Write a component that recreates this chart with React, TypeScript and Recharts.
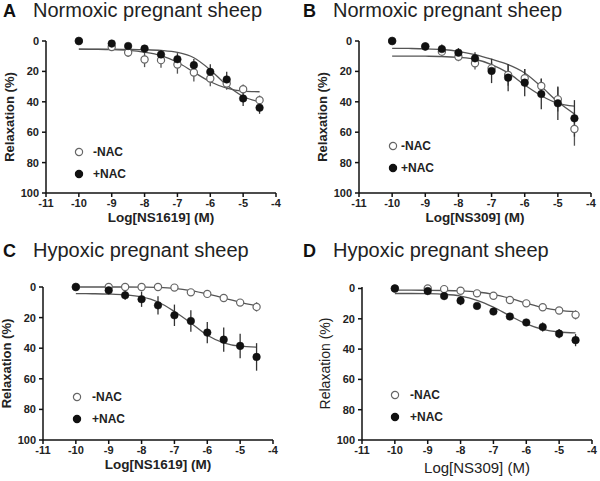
import React from "react";
import {
  ComposedChart,
  Scatter,
  Line,
  XAxis,
  YAxis,
  ErrorBar,
  Legend,
} from "recharts";

// log concentrations (M) of the data points and of the read-off fit curves
const doses = [-10, -9, -8.5, -8, -7.5, -7, -6.5, -6, -5.5, -5, -4.5];
const fitX = [-10, -9.5, -9, -8.5, -8, -7.5, -7, -6.5, -6, -5.5, -5, -4.5];
const xTicks = [-11, -10, -9, -8, -7, -6, -5, -4];
const yTicks = [0, 20, 40, 60, 80, 100];

// A: Normoxic, NS1619
const aMinus = [0, 3.9, 7.6, 12.2, 12.6, 15.5, 20.7, 24.7, 28, 31.7, 38.9];
const aMinusErr = [0, 1, 3, 5, 5, 6, 6, 5, 4, 3, 3];
const aPlus = [0, 1.7, 3.3, 5, 8.9, 12, 15.9, 20.3, 25.3, 37.8, 43.9];
const aPlusErr = [0, 1, 2, 2, 3, 4, 4, 5, 5, 5, 4];
const aMinusFit = [5.4, 5.5, 5.7, 6.2, 7.4, 9.6, 14, 20.5, 26.8, 31, 33, 33.4];
const aPlusFit = [5.4, 5.4, 5.4, 5.5, 5.7, 6.2, 7.5, 11, 19, 29, 36.5, 40];

// B: Normoxic, NS309
const bMinus = [0, 3.5, 7, 10.3, 14.7, 18, 22.4, 24.5, 29.6, 38.4, 57.9];
const bMinusErr = [0, 1, 3, 3, 4, 4, 7, 6, 5, 8, 11];
const bPlus = [0, 3.7, 5.3, 7.7, 11.4, 19.7, 24.1, 27.4, 34.9, 41, 50.9];
const bPlusErr = [0, 1, 3, 3, 4, 8, 9, 9, 10, 11, 12];
const bMinusFit = [4.8, 4.9, 5.1, 5.6, 6.8, 9, 12, 15.5, 21, 30, 40, 48];
const bPlusFit = [9.9, 9.9, 10, 10.2, 10.8, 12, 15.5, 21, 29, 36, 41, 42.8];

// C: Hypoxic, NS1619
const cMinus = [0, 0, 0, 0, 0, 0.4, 3.5, 4.5, 7.2, 10.2, 13];
const cMinusErr = [0, 0, 0, 0, 0, 0, 1, 1, 2, 2, 3];
const cPlus = [0, 2.2, 5.4, 8, 12, 18.5, 22.2, 29.8, 34.4, 38.5, 45.7];
const cPlusErr = [0, 2, 3, 5, 6, 7, 7, 7, 8, 8, 9];
const cMinusFit = [0, 0, 0, 0, 0.1, 0.3, 0.9, 2.3, 4.5, 7.2, 10, 12.2];
const cPlusFit = [4.3, 4.4, 4.6, 5.1, 6.5, 9.8, 16, 23.5, 31.5, 36.5, 38.7, 39.3];

// D: Hypoxic, NS309
const dMinus = [0, 0, 0.4, 1.5, 3.2, 4.8, 7.6, 9.8, 12.4, 14.5, 17.4];
const dMinusErr = [0, 1, 1, 1, 1, 1, 1, 1, 1, 1, 3];
const dPlus = [0, 1.7, 5, 8, 11.5, 15.2, 18.5, 22.4, 25.4, 29.8, 34.1];
const dPlusErr = [0, 2, 1, 3, 2, 2, 2, 2, 3, 3, 4];
const dMinusFit = [1.1, 1.1, 1.2, 1.3, 1.6, 2.3, 3.8, 6.4, 9.6, 12.6, 14.4, 15.2];
const dPlusFit = [3.3, 3.3, 3.4, 3.8, 5, 7.8, 12.3, 18, 23.3, 26.9, 28.7, 29.3];

const FONT = '"Liberation Sans", Arial, sans-serif';

const pts = (ys: number[], errs: number[]) =>
  doses.map((x, i) => ({ x, y: ys[i], err: errs[i] }));
const fit = (ys: number[]) => fitX.map((x, i) => ({ x, y: ys[i] }));

const OpenDot = (p: any) => (
  <circle cx={p.cx} cy={p.cy} r={3.6} fill="#fff" stroke="#666" strokeWidth={1.2} />
);
const FilledDot = (p: any) => (
  <circle cx={p.cx} cy={p.cy} r={3.8} fill="#111" stroke="#111" strokeWidth={0.5} />
);

function LegendBox({ gap }: { gap: number }) {
  const row = (filled: boolean, label: string) => (
    <div style={{ display: "flex", alignItems: "center", height: 22 }}>
      <svg width={10} height={10}>
        <circle
          cx={5}
          cy={5}
          r={3.6}
          fill={filled ? "#111" : "#fff"}
          stroke={filled ? "#111" : "#666"}
          strokeWidth={1.2}
        />
      </svg>
      <span
        style={{
          marginLeft: gap,
          fontFamily: FONT,
          fontWeight: "bold",
          fontSize: 12,
          color: "#222",
        }}
      >
        {label}
      </span>
    </div>
  );
  return (
    <div>
      {row(false, "-NAC")}
      {row(true, "+NAC")}
    </div>
  );
}

type PanelProps = {
  left: number;
  top: number;
  height: number;
  letter: string;
  title: string;
  drug: string;
  plotLeft: number;
  plotRight: number;
  plotTop: number;
  plotBottom: number;
  minus: number[];
  minusErr: number[];
  plus: number[];
  plusErr: number[];
  minusFit: number[];
  plusFit: number[];
  legendX: number;
  legendY: number;
  legendGap: number;
  xLabelOffset: number;
  plainLabels?: boolean;
};

function Panel(p: PanelProps) {
  const W = 300;
  const yAxisW = 30;
  const xAxisH = 34;
  const margin = {
    left: p.plotLeft - yAxisW,
    right: W - p.plotRight,
    top: p.plotTop,
    bottom: p.height - p.plotBottom - xAxisH,
  };
  const tick = { fontSize: 11, fontWeight: "bold", fill: "#222", fontFamily: FONT };
  const axisLine = { stroke: "#111", strokeWidth: 1.5 };
  return (
    <div style={{ position: "absolute", left: p.left, top: p.top, width: W, height: p.height }}>
      <div
        style={{
          position: "absolute",
          left: 3,
          top: 1,
          fontFamily: FONT,
          fontWeight: "bold",
          fontSize: 18,
          lineHeight: "20px",
          color: "#111",
        }}
      >
        {p.letter}
      </div>
      <div
        style={{
          position: "absolute",
          left: 33,
          top: 0,
          fontFamily: FONT,
          fontSize: 20,
          lineHeight: "20px",
          color: "#222",
          whiteSpace: "nowrap",
        }}
      >
        {p.title}
      </div>
      <ComposedChart width={W} height={p.height} margin={margin}>
        <XAxis
          type="number"
          dataKey="x"
          domain={[-11, -4]}
          ticks={xTicks}
          height={xAxisH}
          tick={tick}
          tickSize={4}
          tickMargin={2}
          axisLine={axisLine}
          tickLine={axisLine}
          label={{
            value: p.drug,
            position: "insideBottom",
            offset: p.xLabelOffset,
            style: {
              fontFamily: FONT,
              fontWeight: p.plainLabels ? "normal" : "bold",
              fontSize: p.plainLabels ? 15 : 13.5,
              fill: "#222",
            },
          }}
        />
        <YAxis
          type="number"
          dataKey="y"
          domain={[0, 100]}
          ticks={yTicks}
          reversed
          width={yAxisW}
          tick={tick}
          tickSize={4}
          tickMargin={3}
          axisLine={axisLine}
          tickLine={axisLine}
          label={{
            value: "Relaxation (%)",
            position: "left",
            angle: -90,
            offset: 6.5,
            style: {
              textAnchor: "middle",
              fontFamily: FONT,
              fontWeight: p.plainLabels ? "normal" : "bold",
              fontSize: p.plainLabels ? 14 : 13,
              fill: "#222",
            },
          }}
        />
        <Line
          data={fit(p.minusFit)}
          dataKey="y"
          type="monotone"
          stroke="#555"
          strokeWidth={1.3}
          dot={false}
          isAnimationActive={false}
        />
        <Line
          data={fit(p.plusFit)}
          dataKey="y"
          type="monotone"
          stroke="#555"
          strokeWidth={1.3}
          dot={false}
          isAnimationActive={false}
        />
        <Scatter
          name="-NAC"
          data={pts(p.minus, p.minusErr)}
          shape={OpenDot}
          isAnimationActive={false}
        >
          <ErrorBar dataKey="err" direction="y" width={0} stroke="#555" strokeWidth={1.3} />
        </Scatter>
        <Scatter
          name="+NAC"
          data={pts(p.plus, p.plusErr)}
          shape={FilledDot}
          isAnimationActive={false}
        >
          <ErrorBar dataKey="err" direction="y" width={0} stroke="#333" strokeWidth={1.3} />
        </Scatter>
        <Legend
          layout="vertical"
          align="center"
          verticalAlign="middle"
          content={() => <LegendBox gap={p.legendGap} />}
          wrapperStyle={{ left: p.legendX - 5, top: p.legendY - 11, width: 70, height: 44 }}
        />
      </ComposedChart>
    </div>
  );
}

export default function App() {
  return (
    <div
      style={{
        position: "absolute",
        left: 0,
        top: 0,
        width: 600,
        height: 481,
        background: "#fff",
        overflow: "hidden",
      }}
    >
      <Panel
        left={0}
        top={0}
        height={240}
        letter="A"
        title="Normoxic pregnant sheep"
        drug="Log[NS1619] (M)"
        plotLeft={46}
        plotRight={276}
        plotTop={41}
        plotBottom={193}
        minus={aMinus}
        minusErr={aMinusErr}
        plus={aPlus}
        plusErr={aPlusErr}
        minusFit={aMinusFit}
        plusFit={aPlusFit}
        legendX={79}
        legendY={152}
        legendGap={9}
        xLabelOffset={5}
      />
      <Panel
        left={300}
        top={0}
        height={240}
        letter="B"
        title="Normoxic pregnant sheep"
        drug="Log[NS309] (M)"
        plotLeft={59}
        plotRight={291}
        plotTop={41}
        plotBottom={193}
        minus={bMinus}
        minusErr={bMinusErr}
        plus={bPlus}
        plusErr={bPlusErr}
        minusFit={bMinusFit}
        plusFit={bPlusFit}
        legendX={93}
        legendY={146}
        legendGap={3}
        xLabelOffset={5}
      />
      <Panel
        left={0}
        top={240}
        height={241}
        letter="C"
        title="Hypoxic pregnant sheep"
        drug="Log[NS1619] (M)"
        plotLeft={43}
        plotRight={273}
        plotTop={47}
        plotBottom={200}
        minus={cMinus}
        minusErr={cMinusErr}
        plus={cPlus}
        plusErr={cPlusErr}
        minusFit={cMinusFit}
        plusFit={cPlusFit}
        legendX={77}
        legendY={157}
        legendGap={10}
        xLabelOffset={5}
      />
      <Panel
        left={300}
        top={240}
        height={241}
        letter="D"
        title="Hypoxic pregnant sheep"
        drug="Log[NS309] (M)"
        plotLeft={62}
        plotRight={292}
        plotTop={47}
        plotBottom={200}
        minus={dMinus}
        minusErr={dMinusErr}
        plus={dPlus}
        plusErr={dPlusErr}
        minusFit={dMinusFit}
        plusFit={dPlusFit}
        legendX={95}
        legendY={155}
        legendGap={10}
        xLabelOffset={1}
        plainLabels
      />
    </div>
  );
}
